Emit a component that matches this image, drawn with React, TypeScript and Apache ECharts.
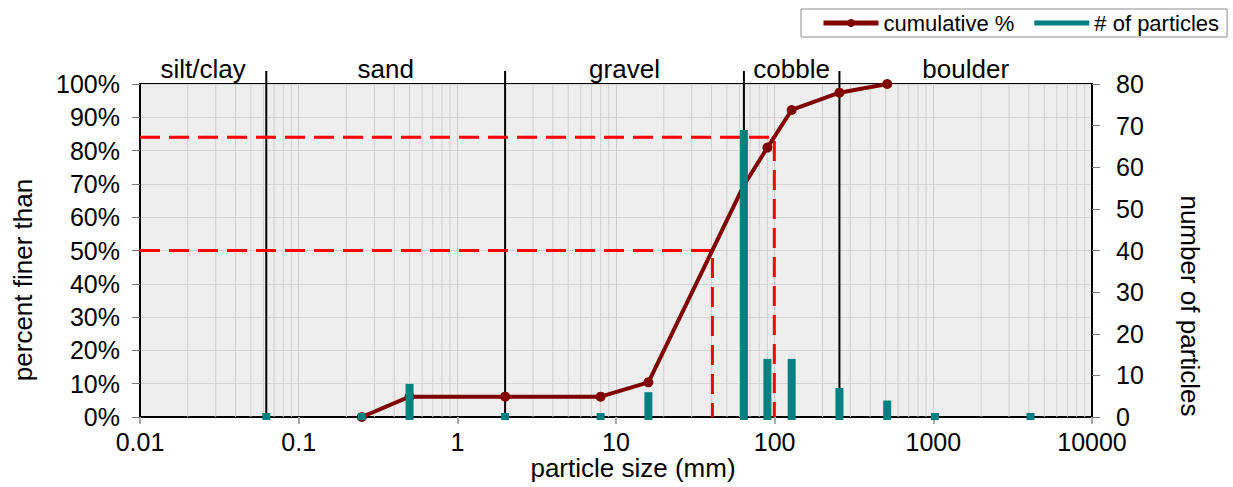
import { useEffect, useRef } from 'react';
import * as echarts from 'echarts';

// ---- data ----
const SIZES = [0.0625, 0.25, 0.5, 2, 8, 16, 64, 90, 128, 256, 512, 1024, 4096];
const COUNTS = [0, 0, 7, 0, 0, 5, 68, 13, 13, 6, 3, 0, 0];
const CUM_SIZES = [0.25, 0.5, 2, 8, 16, 64, 90, 128, 256, 512];
const CUM_PCT = [0, 6.1, 6.1, 6.1, 10.4, 69.6, 80.9, 92.2, 97.4, 100];
const CLASS_BOUNDS = [0.01, 0.0625, 2, 64, 256, 10000];
const CLASS_NAMES = ['silt/clay', 'sand', 'gravel', 'cobble', 'boulder'];
const D50 = 40.5;
const D84 = 99.5;
const X_MIN = 0.01;
const X_MAX = 10000;
// size whose marker is hidden behind its tall bar in the reference
const HIDDEN_MARKER_SIZE = 64;

const FONT = 'Liberation Sans, Arial, sans-serif';

export default function App() {
  const ref = useRef<HTMLDivElement>(null);

  useEffect(() => {
    document.body.style.margin = '0';
    if (!ref.current) return;
    const chart = echarts.init(ref.current, null, { renderer: 'svg' });

    // minor log grid lines (2..9 within each decade)
    const minor: number[][] = [];
    for (let d = X_MIN; d < X_MAX; d *= 10) {
      for (let m = 2; m <= 9; m++) minor.push([Number((d * m).toPrecision(6)), 0]);
    }

    const inner = CLASS_BOUNDS.slice(1, -1).map((b) => [b, 0]);
    const mids = CLASS_NAMES.map((n, i) => [Math.sqrt(CLASS_BOUNDS[i] * CLASS_BOUNDS[i + 1]), 100]);

    const dash = { color: '#ff0000', width: 3, type: [20, 9] };

    const option: any = {
      animation: false,
      backgroundColor: '#fff',
      textStyle: { fontFamily: FONT },
      grid: {
        left: 140,
        right: 141,
        top: 84,
        bottom: 70,
        show: true,
        backgroundColor: '#eeeeee',
        borderColor: '#000',
        borderWidth: 2,
        containLabel: false,
      },
      legend: {
        data: [
          { name: 'cumulative %', lineStyle: { width: 5 } },
          { name: '# of particles', icon: 'path://M0 0H55V5H0Z' },
        ],
        left: 801,
        top: 9,
        itemWidth: 55,
        itemHeight: 10,
        itemGap: 20,
        padding: [3, 8, 3, 20],
        backgroundColor: '#fff',
        borderColor: '#8c8c8c',
        borderWidth: 1,
        borderRadius: 0,
        textStyle: { fontSize: 22, fontFamily: FONT, color: '#000' },
      },
      xAxis: {
        type: 'log',
        logBase: 10,
        min: X_MIN,
        max: X_MAX,
        splitNumber: 6,
        axisLine: { show: true, lineStyle: { color: '#000', width: 2 } },
        axisTick: { show: true, length: 7, lineStyle: { color: '#aaa', width: 2 } },
        axisLabel: {
          fontSize: 25,
          fontFamily: FONT,
          color: '#000',
          margin: 12,
          formatter: (v: number) => String(Number(v.toPrecision(6))),
        },
        splitLine: { show: true, lineStyle: { color: '#cccccc', width: 1 } },
      },
      yAxis: [
        {
          type: 'value',
          min: 0,
          max: 100,
          interval: 10,
          axisLine: { show: true, lineStyle: { color: '#000', width: 2 } },
          axisTick: { show: true, length: 8, lineStyle: { color: '#777' } },
          axisLabel: { fontSize: 25, fontFamily: FONT, color: '#000', margin: 20, formatter: '{value}%' },
          splitLine: { show: true, lineStyle: { color: '#d4d4d4', width: 1 } },
        },
        {
          type: 'value',
          min: 0,
          max: 80,
          interval: 10,
          position: 'right',
          axisLine: { show: true, lineStyle: { color: '#000', width: 2 } },
          axisTick: { show: true, length: 8, lineStyle: { color: '#777' } },
          axisLabel: { fontSize: 25, fontFamily: FONT, color: '#000', margin: 24 },
          splitLine: { show: false },
        },
      ],
      series: [
        {
          type: 'custom',
          name: 'minor-grid',
          silent: true,
          z: 1,
          data: minor,
          encode: { x: 0, y: 1 },
          renderItem: (params: any, api: any) => {
            const x = api.value(0);
            const p0 = api.coord([x, 0]);
            const p1 = api.coord([x, 100]);
            return {
              type: 'line',
              shape: { x1: p0[0], y1: p0[1], x2: p1[0], y2: p1[1] },
              style: { stroke: '#cfcfcf', lineWidth: 1 },
            };
          },
        },
        {
          type: 'custom',
          name: 'class-bounds',
          silent: true,
          z: 2,
          data: inner,
          encode: { x: 0, y: 1 },
          renderItem: (params: any, api: any) => {
            const x = api.value(0);
            const p0 = api.coord([x, 0]);
            const p1 = api.coord([x, 100]);
            return {
              type: 'line',
              shape: { x1: p0[0], y1: p0[1], x2: p1[0], y2: p1[1] - 13 },
              style: { stroke: '#000', lineWidth: 2 },
            };
          },
        },
        {
          type: 'custom',
          name: 'class-names',
          silent: true,
          z: 2,
          data: mids,
          encode: { x: 0, y: 1 },
          renderItem: (params: any, api: any) => {
            const p = api.coord([api.value(0), api.value(1)]);
            return {
              type: 'text',
              x: p[0],
              y: p[1] - 15,
              style: {
                text: CLASS_NAMES[params.dataIndex],
                fontSize: 26,
                fontFamily: FONT,
                fill: '#000',
                align: 'center',
                verticalAlign: 'middle',
              },
            };
          },
        },
        {
          type: 'line',
          name: 'D84',
          z: 2.5,
          silent: true,
          symbol: 'none',
          data: [[X_MIN, 84], [D84, 84], [D84, 0]],
          lineStyle: dash,
        },
        {
          type: 'line',
          name: 'D50',
          z: 2.5,
          silent: true,
          symbol: 'none',
          data: [[X_MIN, 50], [D50, 50], [D50, 0]],
          lineStyle: dash,
        },
        {
          type: 'line',
          name: 'cumulative %',
          z: 3,
          data: CUM_SIZES.map((s, i) =>
            s === HIDDEN_MARKER_SIZE ? { value: [s, CUM_PCT[i]], symbol: 'none' } : { value: [s, CUM_PCT[i]] }
          ),
          symbol: 'circle',
          symbolSize: 10,
          lineStyle: { color: '#800000', width: 4 },
          itemStyle: { color: '#800000' },
        },
        {
          type: 'custom',
          name: '# of particles',
          yAxisIndex: 1,
          z: 5,
          data: SIZES.map((s, i) => [s, COUNTS[i]]),
          encode: { x: 0, y: 1 },
          itemStyle: { color: '#008080' },
          renderItem: (params: any, api: any) => {
            const x = api.value(0);
            const v = api.value(1);
            const base = api.coord([x, 0]);
            const top = api.coord([x, v]);
            const w = 8;
            const y1 = top[1] - 4;
            const y2 = base[1] + 3;
            return {
              type: 'rect',
              shape: { x: base[0] - w / 2, y: y1, width: w, height: y2 - y1 },
              style: { fill: '#008080' },
            };
          },
        },
      ],
      graphic: [
        {
          type: 'text',
          x: 23,
          y: 280,
          rotation: Math.PI / 2,
          style: {
            text: 'percent finer than',
            fontSize: 26,
            fontFamily: FONT,
            fill: '#000',
            align: 'center',
            verticalAlign: 'middle',
          },
        },
        {
          type: 'text',
          x: 1190,
          y: 306,
          rotation: -Math.PI / 2,
          style: {
            text: 'number of particles',
            fontSize: 26,
            fontFamily: FONT,
            fill: '#000',
            align: 'center',
            verticalAlign: 'middle',
          },
        },
        {
          type: 'text',
          x: 633,
          y: 468,
          style: {
            text: 'particle size (mm)',
            fontSize: 26,
            fontFamily: FONT,
            fill: '#000',
            align: 'center',
            verticalAlign: 'middle',
          },
        },
      ],
    };

    chart.setOption(option);
    return () => chart.dispose();
  }, []);

  return <div ref={ref} style={{ width: 1233, height: 487 }} />;
}
